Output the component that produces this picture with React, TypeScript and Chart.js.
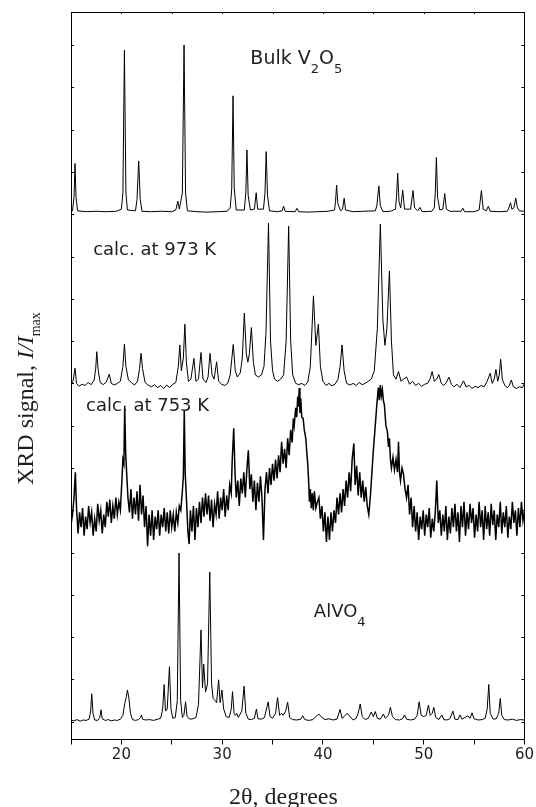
import React, { useEffect, useRef } from "react";
import { Chart, registerables } from "chart.js";

Chart.register(...registerables);

// 2θ (degrees) vs. offset XRD signal (axis units; each tick = 1 unit)
const bulkV2O5: [number, number][] = [
  [15, 12.07], [15.15, 12.08], [15.3, 12.4], [15.4, 13.2], [15.5, 12.4], [15.65, 12.08], [16.5, 12.06], [17.5, 12.07],
  [18.5, 12.06], [19.5, 12.07], [20.0, 12.12], [20.15, 12.5], [20.3, 15.88], [20.45, 12.5], [20.6, 12.1], [21.4, 12.08],
  [21.55, 12.35], [21.72, 13.26], [21.87, 12.35], [22.05, 12.07], [23, 12.06], [24, 12.07], [25, 12.06], [25.4, 12.1],
  [25.6, 12.31], [25.75, 12.12], [26.05, 12.5], [26.22, 16.0], [26.37, 12.5], [26.55, 12.08], [27.5, 12.06], [28.5, 12.05],
  [29.5, 12.06], [30.5, 12.07], [30.8, 12.15], [30.95, 12.6], [31.08, 14.8], [31.2, 12.6], [31.4, 12.1], [32.2, 12.1],
  [32.35, 12.5], [32.46, 13.52], [32.58, 12.45], [32.8, 12.1], [33.2, 12.12], [33.38, 12.51], [33.52, 12.12], [34.1, 12.12],
  [34.25, 12.5], [34.37, 13.48], [34.5, 12.45], [34.7, 12.08], [35.5, 12.06], [35.95, 12.08], [36.1, 12.19], [36.25, 12.07],
  [37.25, 12.06], [37.42, 12.14], [37.6, 12.06], [38.5, 12.05], [39.5, 12.06], [40.5, 12.07], [41.15, 12.1], [41.25, 12.3],
  [41.36, 12.69], [41.48, 12.25], [41.75, 12.08], [41.95, 12.12], [42.11, 12.38], [42.25, 12.1], [43, 12.06], [44, 12.07],
  [45.2, 12.08], [45.35, 12.2], [45.55, 12.67], [45.7, 12.2], [45.95, 12.06], [46.7, 12.07], [47.2, 12.12], [47.3, 12.4],
  [47.42, 12.97], [47.55, 12.3], [47.72, 12.15], [47.92, 12.57], [48.1, 12.12], [48.7, 12.12], [48.94, 12.56], [49.1, 12.15],
  [49.4, 12.08], [49.63, 12.16], [49.85, 12.06], [50.8, 12.07], [51.05, 12.15], [51.15, 12.5], [51.26, 13.34], [51.38, 12.4],
  [51.6, 12.1], [51.9, 12.12], [52.09, 12.49], [52.25, 12.12], [52.6, 12.07], [53.7, 12.07], [53.89, 12.14], [54.05, 12.06],
  [55.0, 12.06], [55.5, 12.1], [55.73, 12.56], [55.9, 12.12], [56.2, 12.08], [56.42, 12.19], [56.6, 12.07], [57.5, 12.06],
  [58.3, 12.07], [58.45, 12.15], [58.62, 12.27], [58.75, 12.12], [58.95, 12.15], [59.14, 12.38], [59.3, 12.15], [59.5, 12.08],
  [60, 12.07],
];

const calc973: [number, number][] = [
  [15, 7.95], [15.2, 8.05], [15.4, 8.36], [15.55, 8.0], [15.8, 7.93], [16.1, 7.98], [16.4, 7.95], [16.7, 8.02], [17.0, 7.97],
  [17.3, 8.08], [17.45, 8.35], [17.56, 8.75], [17.7, 8.3], [17.9, 8.02], [18.2, 7.97], [18.5, 8.03], [18.8, 8.22], [19.0, 8.0],
  [19.3, 7.96], [19.6, 8.0], [19.9, 8.05], [20.15, 8.4], [20.3, 8.93], [20.45, 8.4], [20.7, 8.08], [21.0, 8.02], [21.3, 7.96],
  [21.6, 8.05], [21.8, 8.35], [21.95, 8.71], [22.1, 8.35], [22.35, 8.02], [22.7, 7.95], [23.0, 7.92], [23.3, 7.97], [23.6, 7.9],
  [23.9, 7.95], [24.2, 7.88], [24.5, 7.96], [24.8, 7.9], [25.1, 7.98], [25.4, 8.02], [25.65, 8.4], [25.8, 8.91], [25.95, 8.3],
  [26.15, 8.6], [26.3, 9.4], [26.45, 8.5], [26.65, 8.05], [26.9, 8.1], [27.2, 8.59], [27.4, 8.05], [27.65, 8.1], [27.9, 8.73],
  [28.1, 8.1], [28.4, 8.02], [28.6, 8.15], [28.8, 8.71], [29.0, 8.2], [29.2, 8.1], [29.45, 8.51], [29.65, 8.05], [29.95, 7.98],
  [30.25, 7.95], [30.55, 8.0], [30.8, 8.2], [31.1, 8.92], [31.3, 8.3], [31.5, 8.15], [31.8, 8.25], [32.0, 8.6], [32.2, 9.66],
  [32.4, 8.7], [32.55, 8.5], [32.7, 8.7], [32.9, 9.32], [33.1, 8.5], [33.3, 8.2], [33.6, 8.15], [33.9, 8.2], [34.15, 8.4],
  [34.35, 9.2], [34.6, 11.79], [34.8, 9.0], [35.0, 8.3], [35.2, 8.1], [35.5, 8.05], [35.8, 8.1], [36.1, 8.2], [36.35, 9.0],
  [36.6, 11.72], [36.8, 9.0], [37.0, 8.2], [37.3, 8.0], [37.6, 7.97], [37.9, 8.0], [38.2, 7.95], [38.5, 8.03], [38.75, 8.4],
  [39.06, 10.07], [39.3, 8.9], [39.55, 9.4], [39.75, 8.4], [40.0, 8.05], [40.3, 7.95], [40.6, 8.0], [40.9, 7.94], [41.2, 7.98],
  [41.5, 8.1], [41.7, 8.4], [41.9, 8.91], [42.1, 8.3], [42.35, 8.0], [42.7, 7.96], [43.0, 8.0], [43.3, 7.95], [43.6, 8.02],
  [43.9, 7.97], [44.2, 8.0], [44.5, 8.05], [44.8, 8.1], [45.1, 8.3], [45.4, 9.3], [45.7, 11.77], [45.95, 9.5], [46.15, 8.9],
  [46.35, 9.3], [46.6, 10.66], [46.8, 9.0], [47.0, 8.2], [47.25, 8.1], [47.5, 8.28], [47.75, 8.05], [48.0, 8.1], [48.3, 8.15],
  [48.6, 7.98], [48.9, 8.05], [49.2, 7.95], [49.5, 8.0], [49.8, 7.93], [50.1, 7.98], [50.4, 8.0], [50.65, 8.12], [50.84, 8.28],
  [51.05, 8.05], [51.3, 8.1], [51.5, 8.21], [51.75, 8.0], [52.0, 7.95], [52.25, 8.02], [52.5, 8.15], [52.75, 7.98], [53.0, 7.92],
  [53.3, 7.98], [53.6, 7.9], [53.96, 8.06], [54.2, 7.92], [54.5, 7.95], [54.8, 7.88], [55.1, 7.93], [55.4, 7.9], [55.7, 7.95],
  [56.0, 7.92], [56.3, 8.05], [56.6, 8.24], [56.8, 8.0], [57.0, 8.1], [57.17, 8.33], [57.35, 8.05], [57.5, 8.2], [57.64, 8.57],
  [57.8, 8.1], [58.05, 7.95], [58.3, 7.9], [58.5, 7.95], [58.7, 8.08], [58.9, 7.92], [59.2, 7.88], [59.5, 7.92], [59.8, 7.9],
  [60, 8.0],
];

const calc753: [number, number][] = [
  [15.0, 4.65], [15.15, 4.9], [15.3, 5.3], [15.43, 5.9], [15.55, 5.05], [15.7, 4.45], [15.85, 4.95], [16.0, 4.6], [16.15, 5.05],
  [16.3, 4.4], [16.45, 4.85], [16.6, 4.55], [16.75, 5.1], [16.9, 4.7], [17.05, 4.95], [17.2, 4.4], [17.35, 4.8], [17.5, 4.5],
  [17.65, 5.15], [17.8, 4.75], [17.95, 5.0], [18.1, 4.45], [18.25, 4.9], [18.4, 4.6], [18.55, 5.2], [18.7, 4.85], [18.85, 5.25],
  [19.0, 4.7], [19.15, 5.1], [19.3, 4.8], [19.45, 5.3], [19.6, 4.9], [19.75, 5.2], [19.9, 5.0], [20.05, 5.7], [20.15, 6.2],
  [20.25, 6.1], [20.33, 7.47], [20.42, 6.4], [20.52, 5.9], [20.65, 5.3], [20.8, 4.95], [20.95, 5.5], [21.1, 4.8], [21.25, 5.3],
  [21.4, 4.9], [21.55, 5.45], [21.7, 4.75], [21.85, 5.6], [22.0, 4.9], [22.15, 5.35], [22.3, 4.6], [22.45, 5.1], [22.6, 4.15],
  [22.75, 4.9], [22.9, 4.4], [23.05, 5.0], [23.2, 4.3], [23.35, 4.85], [23.5, 4.55], [23.65, 5.0], [23.8, 4.4], [23.95, 4.9],
  [24.1, 4.6], [24.25, 5.05], [24.4, 4.5], [24.55, 4.95], [24.7, 4.45], [24.85, 5.0], [25.0, 4.6], [25.15, 4.9], [25.3, 4.5],
  [25.45, 4.95], [25.6, 4.7], [25.75, 5.1], [25.9, 5.0], [26.05, 5.45], [26.15, 5.8], [26.24, 7.37], [26.33, 5.9], [26.45, 5.3],
  [26.6, 4.5], [26.72, 4.2], [26.85, 5.0], [27.0, 4.5], [27.15, 5.1], [27.3, 4.3], [27.45, 5.05], [27.6, 4.6], [27.75, 5.2],
  [27.9, 4.7], [28.05, 5.3], [28.2, 4.85], [28.35, 5.4], [28.5, 4.9], [28.65, 5.35], [28.8, 4.75], [28.95, 5.25], [29.1, 4.6],
  [29.25, 5.15], [29.4, 4.9], [29.55, 5.45], [29.7, 4.8], [29.85, 5.3], [30.0, 5.0], [30.15, 5.5], [30.3, 4.85], [30.45, 5.35],
  [30.6, 5.0], [30.75, 5.6], [30.9, 5.4], [31.0, 6.2], [31.15, 6.94], [31.28, 5.85], [31.4, 5.3], [31.55, 5.7], [31.7, 5.1],
  [31.85, 5.75], [32.0, 5.4], [32.15, 5.9], [32.3, 5.3], [32.45, 5.95], [32.6, 6.42], [32.75, 5.5], [32.9, 5.85], [33.05, 5.2],
  [33.2, 5.7], [33.35, 5.0], [33.5, 5.65], [33.65, 5.2], [33.8, 5.8], [33.95, 5.3], [34.1, 4.3], [34.25, 5.5], [34.4, 5.9],
  [34.55, 5.4], [34.7, 6.0], [34.85, 5.6], [35.0, 6.1], [35.15, 5.7], [35.3, 6.2], [35.45, 5.75], [35.6, 6.3], [35.75, 5.9],
  [35.9, 6.62], [36.05, 6.1], [36.2, 6.45], [36.35, 6.0], [36.5, 6.7], [36.65, 6.3], [36.8, 6.9], [36.95, 6.6], [37.06, 7.17],
  [37.15, 7.0], [37.3, 7.42], [37.4, 7.2], [37.5, 7.69], [37.58, 7.45], [37.65, 7.89], [37.72, 7.3], [37.8, 7.65], [37.9, 7.2],
  [38.04, 7.17], [38.15, 6.9], [38.3, 6.7], [38.42, 6.3], [38.5, 6.07], [38.6, 5.6], [38.66, 5.2], [38.75, 5.5], [38.85, 5.05],
  [38.95, 5.4], [39.05, 5.0], [39.15, 5.45], [39.3, 5.05], [39.45, 5.2], [39.6, 5.3], [39.75, 4.8], [39.9, 5.1], [40.05, 4.5],
  [40.2, 4.95], [40.35, 4.25], [40.5, 4.85], [40.65, 4.3], [40.8, 4.95], [40.95, 4.5], [41.1, 5.0], [41.25, 4.7], [41.4, 5.3],
  [41.55, 4.9], [41.7, 5.4], [41.85, 4.95], [42.0, 5.5], [42.15, 5.1], [42.3, 5.7], [42.45, 5.3], [42.6, 5.9], [42.75, 5.45],
  [42.9, 6.2], [43.07, 6.58], [43.2, 5.6], [43.35, 6.05], [43.5, 5.35], [43.65, 5.9], [43.8, 5.3], [43.95, 5.7], [44.1, 5.2],
  [44.25, 5.55], [44.4, 5.1], [44.55, 4.9], [44.7, 5.3], [44.85, 5.85], [45.0, 6.4], [45.2, 7.02], [45.35, 7.5], [45.5, 7.9],
  [45.6, 7.6], [45.7, 7.96], [45.8, 7.7], [45.9, 7.85], [46.0, 7.6], [46.1, 7.49], [46.25, 7.0], [46.4, 6.86], [46.5, 6.5],
  [46.6, 6.7], [46.7, 6.2], [46.8, 6.0], [46.95, 6.25], [47.1, 5.95], [47.25, 6.2], [47.4, 5.9], [47.5, 6.62], [47.6, 5.9],
  [47.7, 5.7], [47.85, 6.0], [48.0, 5.85], [48.15, 5.5], [48.3, 5.3], [48.45, 5.6], [48.6, 4.9], [48.75, 5.3], [48.9, 4.6],
  [49.05, 5.1], [49.2, 4.5], [49.35, 4.95], [49.5, 4.3], [49.65, 4.85], [49.8, 4.55], [49.95, 5.0], [50.1, 4.4], [50.25, 4.9],
  [50.4, 4.6], [50.55, 5.05], [50.7, 4.35], [50.85, 4.8], [51.0, 4.5], [51.15, 4.95], [51.3, 5.7], [51.45, 4.7], [51.6, 5.0],
  [51.75, 4.4], [51.9, 4.9], [52.05, 4.5], [52.2, 5.1], [52.35, 4.3], [52.5, 4.85], [52.65, 4.45], [52.8, 5.05], [52.95, 4.6],
  [53.1, 5.15], [53.25, 4.5], [53.4, 4.95], [53.55, 4.25], [53.7, 5.1], [53.85, 4.6], [54.0, 5.2], [54.15, 4.4], [54.3, 4.95],
  [54.45, 4.55], [54.6, 5.15], [54.75, 4.7], [54.9, 5.05], [55.05, 4.35], [55.2, 4.9], [55.35, 4.5], [55.5, 5.2], [55.65, 4.6],
  [55.8, 5.0], [55.95, 4.3], [56.1, 5.1], [56.25, 4.55], [56.4, 4.95], [56.55, 4.4], [56.7, 5.15], [56.85, 4.65], [57.0, 5.0],
  [57.15, 4.3], [57.3, 4.9], [57.45, 4.6], [57.6, 5.2], [57.75, 4.45], [57.9, 4.95], [58.05, 4.6], [58.2, 5.1], [58.35, 4.35],
  [58.5, 4.85], [58.65, 4.55], [58.8, 5.2], [58.95, 4.7], [59.1, 5.0], [59.25, 4.4], [59.4, 5.05], [59.55, 4.6], [59.7, 5.2],
  [59.85, 4.75], [60.0, 5.0],
];

const alvo4: [number, number][] = [
  [15, 0.04], [15.3, 0.02], [15.6, 0.05], [15.9, 0.01], [16.2, 0.04], [16.5, 0.03], [16.8, 0.06], [16.95, 0.25], [17.06, 0.66],
  [17.18, 0.2], [17.35, 0.04], [17.65, 0.03], [17.85, 0.1], [17.98, 0.28], [18.1, 0.07], [18.4, 0.03], [18.7, 0.05], [19.0, 0.02],
  [19.3, 0.04], [19.6, 0.03], [19.9, 0.06], [20.15, 0.15], [20.35, 0.45], [20.5, 0.6], [20.6, 0.75], [20.75, 0.55], [20.9, 0.2],
  [21.1, 0.05], [21.4, 0.03], [21.7, 0.05], [21.9, 0.1], [22.0, 0.16], [22.1, 0.06], [22.4, 0.04], [22.8, 0.05], [23.2, 0.03],
  [23.6, 0.06], [23.9, 0.08], [24.1, 0.3], [24.24, 0.88], [24.38, 0.25], [24.55, 0.3], [24.77, 1.3], [24.92, 0.3], [25.1, 0.08],
  [25.35, 0.1], [25.55, 0.5], [25.72, 3.99], [25.88, 0.5], [26.05, 0.1], [26.2, 0.15], [26.37, 0.47], [26.52, 0.12], [26.8, 0.06],
  [27.1, 0.07], [27.4, 0.1], [27.65, 0.4], [27.9, 2.17], [28.05, 0.8], [28.17, 1.36], [28.35, 0.7], [28.55, 0.9], [28.77, 3.54],
  [28.95, 0.9], [29.1, 0.55], [29.3, 0.5], [29.45, 0.45], [29.65, 0.99], [29.8, 0.45], [29.98, 0.75], [30.15, 0.3], [30.4, 0.12],
  [30.7, 0.1], [30.9, 0.3], [31.03, 0.71], [31.18, 0.2], [31.3, 0.15], [31.45, 0.2], [31.6, 0.1], [31.95, 0.25], [32.18, 0.84],
  [32.35, 0.2], [32.6, 0.06], [32.9, 0.05], [33.2, 0.08], [33.4, 0.3], [33.55, 0.07], [33.9, 0.06], [34.2, 0.1], [34.4, 0.3],
  [34.57, 0.47], [34.75, 0.12], [35.0, 0.08], [35.3, 0.2], [35.5, 0.57], [35.7, 0.15], [35.9, 0.2], [36.05, 0.15], [36.3, 0.25],
  [36.5, 0.46], [36.7, 0.1], [37.0, 0.05], [37.4, 0.04], [37.8, 0.06], [38.0, 0.14], [38.2, 0.05], [38.6, 0.03], [39.0, 0.05],
  [39.3, 0.12], [39.6, 0.18], [39.9, 0.1], [40.2, 0.05], [40.6, 0.07], [41.0, 0.04], [41.4, 0.06], [41.7, 0.29], [41.9, 0.08],
  [42.1, 0.12], [42.4, 0.2], [42.7, 0.12], [43.0, 0.04], [43.3, 0.08], [43.5, 0.2], [43.7, 0.42], [43.9, 0.12], [44.2, 0.05],
  [44.5, 0.08], [44.8, 0.23], [45.0, 0.12], [45.2, 0.24], [45.4, 0.08], [45.7, 0.06], [46.0, 0.18], [46.2, 0.08], [46.5, 0.15],
  [46.7, 0.34], [46.9, 0.12], [47.2, 0.05], [47.6, 0.04], [47.9, 0.07], [48.1, 0.16], [48.3, 0.06], [48.7, 0.04], [49.1, 0.06],
  [49.35, 0.15], [49.55, 0.47], [49.75, 0.15], [50.0, 0.12], [50.25, 0.15], [50.47, 0.39], [50.65, 0.15], [50.85, 0.2],
  [51.0, 0.34], [51.2, 0.1], [51.5, 0.05], [51.8, 0.16], [52.0, 0.05], [52.3, 0.04], [52.6, 0.07], [52.9, 0.25], [53.1, 0.06],
  [53.4, 0.05], [53.6, 0.16], [53.8, 0.06], [54.1, 0.1], [54.4, 0.14], [54.6, 0.08], [54.8, 0.21], [55.0, 0.07], [55.4, 0.04],
  [55.8, 0.05], [56.1, 0.08], [56.3, 0.3], [56.46, 0.88], [56.6, 0.2], [56.9, 0.06], [57.2, 0.07], [57.45, 0.2], [57.6, 0.55],
  [57.75, 0.15], [58.0, 0.05], [58.4, 0.04], [58.8, 0.06], [59.2, 0.03], [59.6, 0.05], [60, 0.04],
];

const xRange = [15, 60];
const xTickLabels = [20, 30, 40, 50, 60];
const yRange = [-0.421, 16.782];
const lineWidths = [1, 1, 1.5, 1];

type Part = { text: string; sub?: boolean; italic?: boolean };

const traceLabels: { parts: Part[]; theta: number; value: number; size: number }[] = [
  { parts: [{ text: "Bulk V" }, { text: "2", sub: true }, { text: "O" }, { text: "5", sub: true }], theta: 32.8, value: 15.55, size: 19 },
  { parts: [{ text: "calc. at 973 K" }], theta: 17.2, value: 11.04, size: 18 },
  { parts: [{ text: "calc. at 753 K" }], theta: 16.5, value: 7.35, size: 18 },
  { parts: [{ text: "AlVO" }, { text: "4", sub: true }], theta: 39.1, value: 2.48, size: 18 },
];

const xTitle = "2θ, degrees";
const yTitle: Part[] = [{ text: "XRD signal, " }, { text: "I/I", italic: true }, { text: "max", sub: true }];

const TEXT = "#1e1e1e";

function drawParts(ctx: CanvasRenderingContext2D, parts: Part[], x: number, y: number, size: number, family: string, subSize: number, subShift: number) {
  let cx = x;
  for (const p of parts) {
    const s = p.sub ? subSize : size;
    ctx.font = `${p.italic ? "italic " : ""}${s}px ${family}`;
    ctx.fillText(p.text, cx, y + (p.sub ? subShift : 0));
    cx += ctx.measureText(p.text).width;
  }
}

const decor = {
  id: "decor",
  afterDatasetsDraw(chart: any) {
    const { ctx, chartArea, scales } = chart;
    const xs = scales.x;
    const ys = scales.y;
    ctx.save();
    ctx.strokeStyle = "#000";
    ctx.lineWidth = 1;
    ctx.beginPath();
    for (const t of ys.ticks) {
      if (!Number.isInteger(t.value)) continue;
      const py = Math.round(ys.getPixelForValue(t.value)) + 0.5;
      ctx.moveTo(chartArea.left, py);
      ctx.lineTo(chartArea.left + 3, py);
      ctx.moveTo(chartArea.right, py);
      ctx.lineTo(chartArea.right - 3, py);
    }
    for (const t of xs.ticks) {
      const px = Math.round(xs.getPixelForValue(t.value)) + 0.5;
      ctx.moveTo(px, chartArea.top);
      ctx.lineTo(px, chartArea.top + 2);
    }
    ctx.stroke();

    ctx.fillStyle = TEXT;
    ctx.textBaseline = "alphabetic";
    ctx.textAlign = "left";
    for (const l of traceLabels) {
      const px = xs.getPixelForValue(l.theta);
      const py = ys.getPixelForValue(l.value);
      drawParts(ctx, l.parts, px, py, l.size, "'DejaVu Sans', sans-serif", 13, 9);
    }

    // axis titles
    ctx.font = "24px 'Liberation Serif', 'Times New Roman', serif";
    ctx.fillText(xTitle, chartArea.left + 158, chartArea.bottom + 64);

    ctx.save();
    ctx.translate(33, chartArea.top + 473);
    ctx.rotate(-Math.PI / 2);
    drawParts(ctx, yTitle, 0, 0, 24, "'Liberation Serif', 'Times New Roman', serif", 14, 7);
    ctx.restore();
    ctx.restore();
  },
};

export default function App() {
  const ref = useRef<HTMLCanvasElement | null>(null);

  useEffect(() => {
    document.body.style.margin = "0";
    const canvas = ref.current;
    if (!canvas) return;
    const series = [bulkV2O5, calc973, calc753, alvo4];
    const chart = new Chart(canvas, {
      type: "line",
      data: {
        datasets: series.map((s, i) => ({
          data: s.map(([x, y]) => ({ x, y })),
          borderColor: "#000",
          borderWidth: lineWidths[i],
          pointRadius: 0,
          tension: 0,
          fill: false,
        })),
      },
      options: {
        responsive: false,
        animation: false,
        events: [],
        layout: { padding: 0 },
        plugins: { legend: { display: false }, tooltip: { enabled: false }, title: { display: false } },
        scales: {
          x: {
            type: "linear",
            position: "bottom",
            min: xRange[0],
            max: xRange[1],
            ticks: {
              stepSize: 5,
              autoSkip: false,
              maxRotation: 0,
              padding: 2,
              color: TEXT,
              font: { family: "'DejaVu Sans', sans-serif", size: 15 },
              callback: (v: any) => (xTickLabels.includes(Number(v)) ? String(v) : ""),
            },
            grid: { drawOnChartArea: false, tickLength: 5, color: "#000", lineWidth: 1 },
            border: { display: true, color: "#000", width: 1 },
            afterFit: (s: any) => {
              s.height = 67.5;
            },
          },
          xTop: {
            type: "linear",
            position: "top",
            min: xRange[0],
            max: xRange[1],
            ticks: { display: false, stepSize: 5 },
            grid: { display: false, drawTicks: false },
            border: { display: true, color: "#000", width: 1 },
            afterFit: (s: any) => {
              s.height = 12;
            },
          },
          y: {
            type: "linear",
            position: "left",
            min: yRange[0],
            max: yRange[1],
            ticks: { display: false, stepSize: 1 },
            grid: { display: false, drawTicks: false },
            border: { display: true, color: "#000", width: 1 },
            afterFit: (s: any) => {
              s.width = 71;
            },
          },
          yRight: {
            type: "linear",
            position: "right",
            min: yRange[0],
            max: yRange[1],
            ticks: { display: false, stepSize: 1 },
            grid: { display: false, drawTicks: false },
            border: { display: true, color: "#000", width: 1 },
            afterFit: (s: any) => {
              s.width = 8;
            },
          },
        },
      } as any,
      plugins: [decor],
    });
    return () => chart.destroy();
  }, []);

  return (
    <div style={{ width: 536, height: 807, background: "#fff" }}>
      <canvas ref={ref} width={536} height={807} style={{ display: "block" }} />
    </div>
  );
}
